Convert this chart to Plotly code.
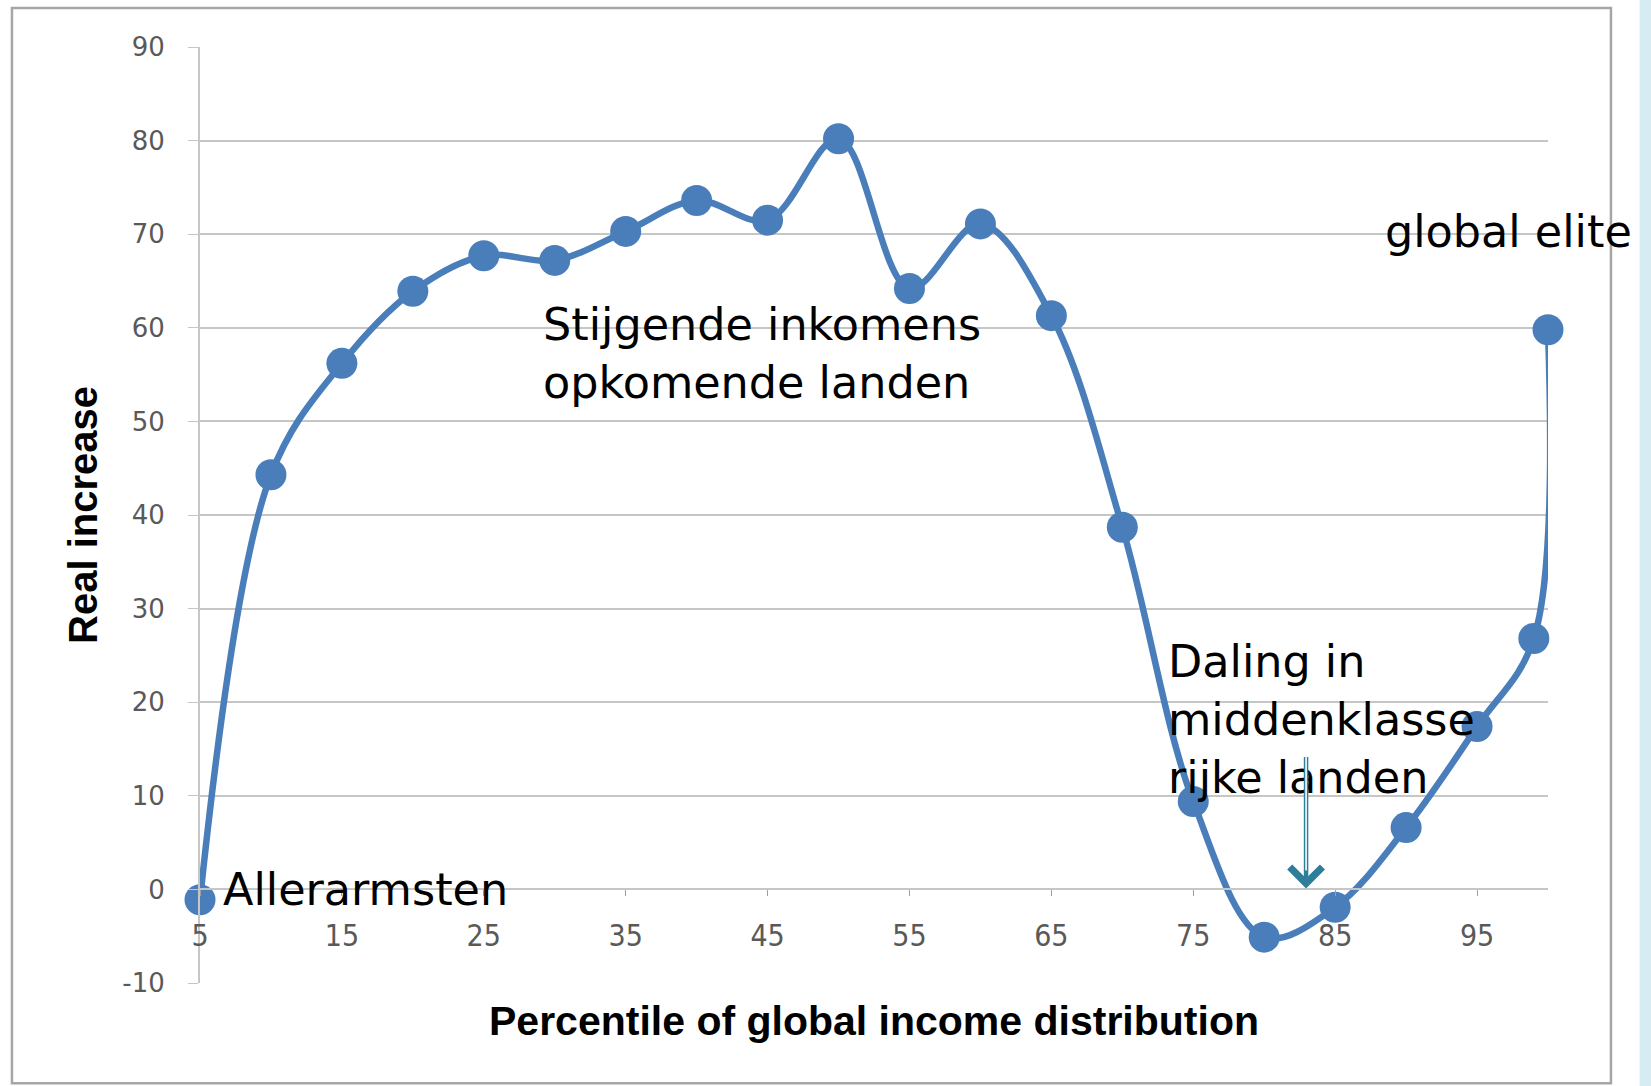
import plotly.graph_objects as go

# Data
percentiles = [5, 10, 15, 20, 25, 30, 35, 40, 45, 50, 55, 60, 65, 70, 75, 80, 85, 90, 95, 99, 100]
real_increase = [-1.1, 44.3, 56.2, 63.9, 67.7, 67.2, 70.3, 73.6, 71.5, 80.2, 64.2, 71.1, 61.3,
                 38.7, 9.4, -5.1, -1.9, 6.6, 17.4, 26.8, 59.8]
y_ticks = [-10, 0, 10, 20, 30, 40, 50, 60, 70, 80, 90]
x_ticks = [5, 15, 25, 35, 45, 55, 65, 75, 85, 95]

BLUE = "#4A7EBB"
GRID = "#c6c6c6"
TICKGRAY = "#595959"
ANN_FONT = dict(family="DejaVu Sans, Open Sans, sans-serif", size=44.5, color="black")

fig = go.Figure()
fig.add_trace(go.Scatter(
    x=percentiles, y=real_increase, mode="lines+markers",
    line=dict(color=BLUE, width=6.5, shape="spline", smoothing=1.0),
    marker=dict(color=BLUE, size=31),
    cliponaxis=False, showlegend=False, hoverinfo="x+y",
))

fig.update_layout(
    width=1651, height=1086,
    margin=dict(l=200, r=103, t=47, b=103),
    paper_bgcolor="white", plot_bgcolor="white",
    xaxis=dict(
        range=[5, 100], tickmode="array", tickvals=x_ticks, ticktext=[str(v) for v in x_ticks],
        anchor="free", position=0.1, showgrid=False, zeroline=False,
        showline=True, linecolor=GRID, linewidth=2,
        ticks="outside", ticklen=6, tickcolor="#a0a0a0", ticklabelstandoff=14,
        tickfont=dict(family="Liberation Sans Narrow, DejaVu Sans Condensed, Liberation Sans, sans-serif",
                      size=30, color=TICKGRAY),
        title=dict(text="<b>Percentile of global income distribution</b>", standoff=53,
                   font=dict(family="Liberation Sans, Arial, sans-serif", size=41, color="black")),
    ),
    yaxis=dict(
        range=[-10, 90], tickmode="array", tickvals=y_ticks, ticktext=[str(v) for v in y_ticks],
        showgrid=True, gridcolor=GRID, gridwidth=2, zeroline=False,
        showline=True, linecolor=GRID, linewidth=2,
        ticks="outside", ticklen=10, tickcolor=GRID, ticklabelstandoff=18,
        tickfont=dict(family="DejaVu Sans, sans-serif", size=26, color=TICKGRAY),
        title=dict(text="<b>Real increase</b>", standoff=12,
                   font=dict(family="Liberation Sans, Arial, sans-serif", size=40, color="black")),
    ),
    shapes=[
        dict(type="rect", xref="paper", yref="paper", x0=-0.1395, x1=1.0467, y0=-0.107, y1=1.0417,
             line=dict(color="#a6a6a6", width=2.5), fillcolor="rgba(0,0,0,0)", layer="below"),
        dict(type="rect", xref="paper", yref="paper", x0=1.068, x1=1.09, y0=-0.12, y1=1.06,
             line=dict(width=0), fillcolor="#d6ebf2", layer="below"),
    ],
    annotations=[
        dict(x=6.5, y=0, xref="x", yref="y", text="Allerarmsten", showarrow=False,
             xanchor="left", yanchor="middle", font=ANN_FONT),
        dict(x=29.0, y=57.3, xref="x", yref="y", text="Stijgende inkomens<br>opkomende landen",
             showarrow=False, xanchor="left", yanchor="middle", align="left", font=ANN_FONT),
        dict(x=73.1, y=18.2, xref="x", yref="y", text="Daling in<br>middenklasse<br>rijke landen",
             showarrow=False, xanchor="left", yanchor="middle", align="left", font=ANN_FONT),
        dict(x=88.4, y=70.3, xref="x", yref="y", text="global elite", showarrow=False,
             xanchor="left", yanchor="middle", font=ANN_FONT),
        dict(x=82.95, y=0.1, xref="x", yref="y", text="", showarrow=True, ax=0, ay=-133,
             arrowhead=4, arrowsize=1.4, arrowwidth=4.5, arrowcolor="#2e7d9b"),
        dict(x=82.95, y=0.1, xref="x", yref="y", text="", showarrow=True, ax=0, ay=-135,
             arrowhead=0, arrowwidth=1.6, arrowcolor="white", standoff=18),
    ],
)

fig.write_html("out.html", config={"displayModeBar": False},
               post_script="document.body.style.margin='0';")
